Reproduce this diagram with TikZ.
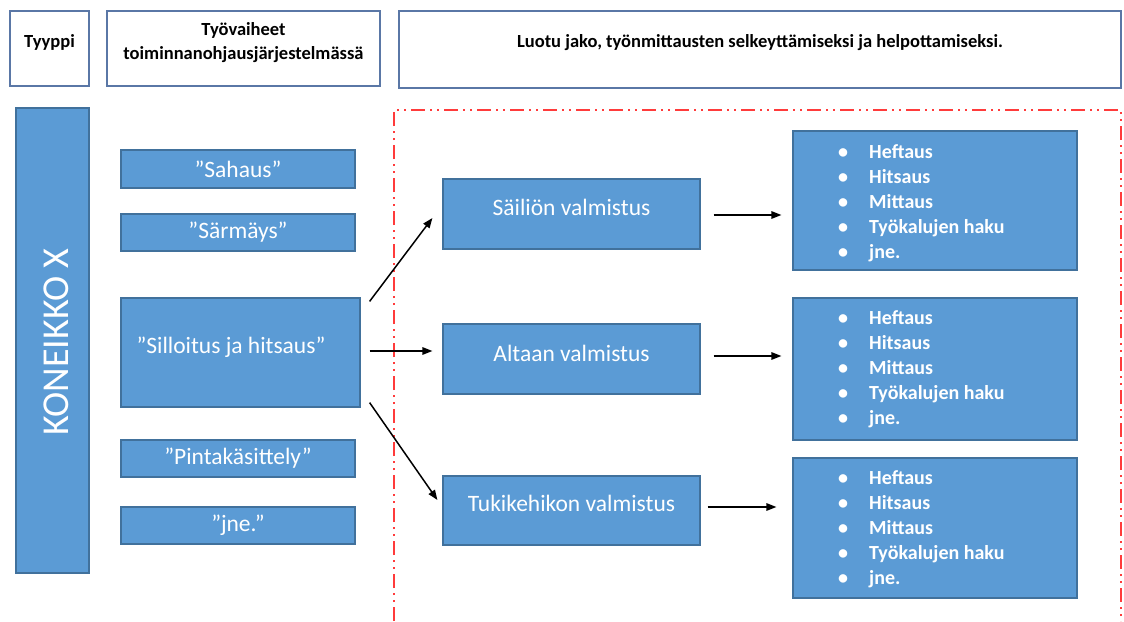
\documentclass[tikz,border=0pt]{standalone}
\usepackage{fontspec}
\setmainfont{Carlito}
\usetikzlibrary{arrows.meta}
\definecolor{boxblue}{HTML}{5B9BD5}
\definecolor{boxedge}{HTML}{41719C}
\definecolor{headedge}{HTML}{5A77A6}
\definecolor{redline}{HTML}{FF3B3B}
\begin{document}
\begin{tikzpicture}[x=1pt,y=-1pt,
  bbox/.style={rectangle, draw=boxedge, line width=1.2pt, fill=boxblue, inner sep=0pt},
  headbox/.style={rectangle, draw=headedge, line width=1.5pt, fill=white, inner sep=0pt},
  htext/.style={font=\fontsize{18.5}{24}\selectfont\bfseries, align=center, text=black, inner sep=0pt},
  wtext/.style={font=\fontsize{23.5}{28}\selectfont, text=white, inner sep=0pt},
  itext/.style={font=\fontsize{20}{25}\selectfont\bfseries, text=white, text height=13pt, text depth=4pt, inner sep=0pt, anchor=west},
  arr/.style={line width=1.5pt, -{Triangle[length=10pt,width=7.5pt]}}
]
\useasboundingbox (0,0) rectangle (1124,621);
\fill[white] (0,0) rectangle (1124,621);

% header
\node[headbox, minimum width=79pt, minimum height=75pt] (h1) at (49.5,48.5) {};
\node[htext] (h1t) at (49.5,42) {Tyyppi};
\node[headbox, minimum width=273pt, minimum height=75pt] (h2) at (243.5,48.5) {};
\node[htext] (h2t) at (243.5,43) {Työvaiheet\\toiminnanohjausjärjestelmässä};
\node[headbox, minimum width=722pt, minimum height=77pt] (h3) at (760,49.5) {};
\node[htext] (h3t) at (760,43) {Luotu jako, työnmittausten selkeyttämiseksi ja helpottamiseksi.};

% red frame
\draw[redline, line width=2pt, dash pattern=on 14pt off 5pt on 2pt off 5pt on 2pt off 5pt]
  (394,621) -- (394,110) -- (1121,110) -- (1121,621);

% Koneikko
\node[bbox, minimum width=73pt, minimum height=465pt] (kon) at (52.5,340.5) {};
\node[wtext, rotate=90, font=\fontsize{38}{40}\selectfont] (kont) at (56,342) {KONEIKKO X};

% left column
\node[bbox, minimum width=234pt, minimum height=38pt] (sah) at (238,169) {};
\node[wtext] (saht) at (238,169) {”Sahaus”};
\node[bbox, minimum width=234pt, minimum height=37pt] (sar) at (238,232.5) {};
\node[wtext] (sart) at (238,232.5) {”Särmäys”};
\node[bbox, minimum width=239pt, minimum height=109pt] (sill) at (240.5,352.5) {};
\node[wtext] (sillt) at (231,347) {”Silloitus ja hitsaus”};
\node[bbox, minimum width=234pt, minimum height=37pt] (pin) at (238,458.5) {};
\node[wtext] (pint) at (238,458.5) {”Pintakäsittely”};
\node[bbox, minimum width=234pt, minimum height=37pt] (jne) at (238,525.5) {};
\node[wtext] (jnet) at (238,525.5) {”jne.”};

% middle column
\node[bbox, minimum width=257pt, minimum height=70pt] (sailio) at (571.5,214) {};
\node[wtext] (sailiot) at (571.5,207) {Säiliön valmistus};
\node[bbox, minimum width=257pt, minimum height=70pt] (altaan) at (571.5,359) {};
\node[wtext] (altaant) at (571.5,353) {Altaan valmistus};
\node[bbox, minimum width=257pt, minimum height=69pt] (tuki) at (571.5,510.5) {};
\node[wtext] (tukit) at (571.5,503) {Tukikehikon valmistus};

% right column
\node[bbox, minimum width=284pt, minimum height=139pt] (r1) at (935,200.5) {};
\node[bbox, minimum width=284pt, minimum height=142pt] (r2) at (935,369) {};
\node[bbox, minimum width=284pt, minimum height=140pt] (r3) at (935,528) {};
\foreach \b/\y in {1/154,2/320,3/480}{
  \foreach \t [count=\i from 0] in {Heftaus,Hitsaus,Mittaus,Työkalujen haku,jne.}{
    \node[itext] (b\b i\i) at (838,\y+25*\i) {\makebox[31pt][l]{\textbullet}\t};
  }
}

% arrows
\draw[arr] ([xshift=9pt,yshift=-4pt]sill.north east) -- ([xshift=-10pt,yshift=-4pt]sailio.west);
\draw[arr] ([xshift=9pt,yshift=1.5pt]sill.east) -- ([xshift=-10pt,yshift=8pt]altaan.west);
\draw[arr] ([xshift=9pt,yshift=5pt]sill.south east) -- ([xshift=-5pt,yshift=10.5pt]tuki.west);
\draw[arr] ([xshift=13pt,yshift=-1pt]sailio.east) -- ([xshift=-11pt,yshift=-14.5pt]r1.west);
\draw[arr] ([xshift=13pt,yshift=3pt]altaan.east) -- ([xshift=-11pt,yshift=13pt]r2.west);
\draw[arr] ([xshift=7pt,yshift=3.5pt]tuki.east) -- ([xshift=-16pt,yshift=21pt]r3.west);
\end{tikzpicture}
\end{document}
